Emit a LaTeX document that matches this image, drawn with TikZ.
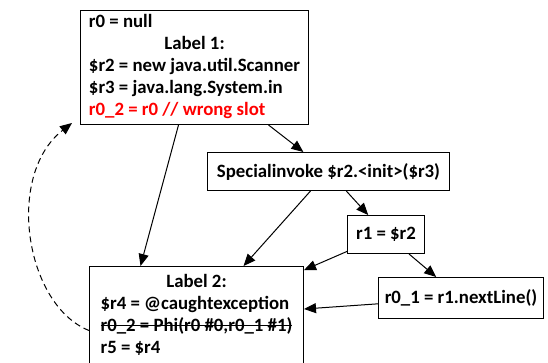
\documentclass[tikz,border=0pt]{standalone}
\usepackage{fontspec}
\setmainfont{Carlito}
\usetikzlibrary{arrows.meta}
\newsavebox\strikebox
\newcommand\struck[1]{\sbox\strikebox{#1}\rlap{\rule[0.3em]{\wd\strikebox}{1.3pt}}\usebox\strikebox}

\begin{document}
\begin{tikzpicture}[x=1pt,y=1pt,yscale=-1,xscale=1,
  block/.style={draw, line width=1pt, anchor=north west, inner sep=0pt, font=\fontsize{18.8}{22}\selectfont\bfseries},
  edge/.style={-{Triangle[length=12pt,width=10pt]}, line width=1pt}]
\useasboundingbox (0,0) rectangle (548,362);

% Blocks
\node[block, minimum width=228pt, minimum height=114pt] (lab1) at (80,10) {\begin{tabular}{@{}l@{}}
r0 = null\\
\multicolumn{1}{@{}c@{}}{Label 1:}\\
\$r2 = new java.util.Scanner\\
\$r3 = java.lang.System.in\\
\textcolor{red}{r0\_2 = r0 // wrong slot}
\end{tabular}};
\node[block, minimum width=242pt, minimum height=38pt] (invoke) at (207,152) {Specialinvoke \$r2.<init>(\$r3)};
\node[block, minimum width=77pt, minimum height=38pt] (assign) at (347,215) {r1 = \$r2};
\node[block, minimum width=165pt, minimum height=41pt] (readline) at (378,277) {r0\_1 = r1.nextLine()};
\node[block, minimum width=214pt, minimum height=100pt] (lab2) at (89,266) {\begin{tabular}{@{}l@{}}
\multicolumn{1}{@{}c@{}}{Label 2:}\\
\$r4 = @caughtexception\\
\struck{r0\_2 = Phi(r0 \#0,r0\_1 \#1)}\\
r5 = \$r4
\end{tabular}};

% Edges
\draw[edge] (lab1) -- (invoke);
\draw[edge] ([xshift=-16pt]lab1.south) -- ([xshift=-56pt]lab2.north);
\draw[edge] ([xshift=-18pt]invoke.south) -- ([xshift=47pt]lab2.north);
\draw[edge] (invoke) -- (assign);
\draw[edge] (assign) -- (lab2);
\draw[edge] (assign) -- (readline);
\draw[edge] (readline) -- (lab2);
% back edge
\draw[edge, dash pattern=on 6pt off 4pt] ([yshift=14pt]lab2.west) .. controls (25,305) and (5,175) .. ([shift={(-8pt,-2pt)}]lab1.south west);
\end{tikzpicture}
\end{document}
